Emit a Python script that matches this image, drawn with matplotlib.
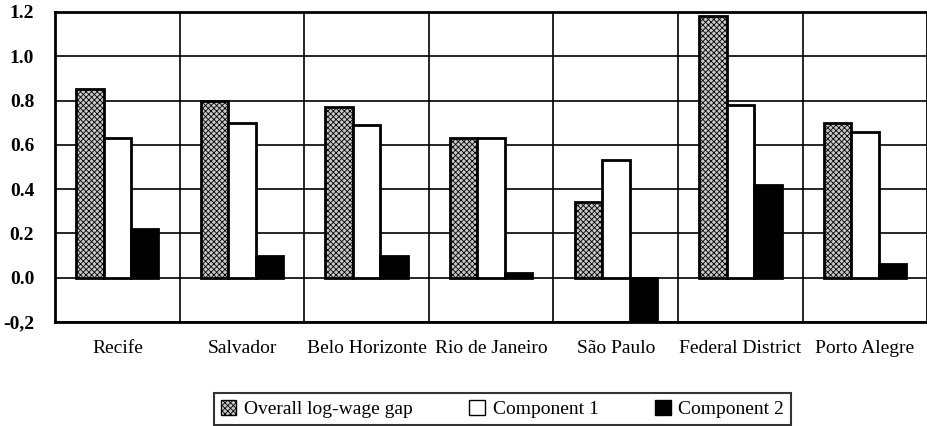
import numpy as np
import matplotlib
matplotlib.use("Agg")
import matplotlib.pyplot as plt

# Data
cities = ["Recife", "Salvador", "Belo Horizonte", "Rio de Janeiro",
          "São Paulo", "Federal District", "Porto Alegre"]
overall_gap = [0.85, 0.80, 0.77, 0.63, 0.34, 1.18, 0.70]
component_1 = [0.63, 0.70, 0.69, 0.63, 0.53, 0.78, 0.66]
component_2 = [0.22, 0.10, 0.10, 0.02, -0.25, 0.42, 0.06]
series_names = ["Overall log-wage gap", "Component 1", "Component 2"]
y_ticks = [-0.2, 0.0, 0.2, 0.4, 0.6, 0.8, 1.0, 1.2]
y_tick_labels = ["-0,2", "0.0", "0.2", "0.4", "0.6", "0.8", "1.0", "1.2"]

plt.rcParams['font.family'] = ['Liberation Serif', 'DejaVu Serif']
plt.rcParams['hatch.linewidth'] = 0.6

fig = plt.figure(figsize=(9.28, 4.26), dpi=100)
ax = fig.add_axes([0.0593, 0.244, 0.94, 0.728])

x = np.arange(len(cities))
w = 0.22
bar_kw = dict(edgecolor='black', linewidth=2.0, zorder=3)
ax.bar(x - w, overall_gap, w, facecolor='#c8c8c8', hatch='xxxxxx',
       label=series_names[0], **bar_kw)
ax.bar(x, component_1, w, facecolor='white', label=series_names[1], **bar_kw)
ax.bar(x + w, component_2, w, facecolor='black', label=series_names[2], **bar_kw)

ax.set_xlim(-0.5, len(cities) - 0.5)
ax.set_ylim(-0.2, 1.2)
ax.set_yticks(y_ticks)
ax.set_yticklabels(y_tick_labels, fontsize=14, fontweight='bold')
ax.set_xticks(x)
ax.set_xticklabels(cities, fontsize=14)
ax.tick_params(axis='both', length=0)
ax.tick_params(axis='x', pad=13)
ax.tick_params(axis='y', pad=15)

# horizontal grid at ticks, vertical lines between categories
for yv in y_ticks:
    ax.axhline(yv, color='black', linewidth=1.2, zorder=1)
for xv in np.arange(0.5, len(cities) - 0.5, 1):
    ax.axvline(xv, color='black', linewidth=1.2, zorder=1)
for s in ax.spines.values():
    s.set_linewidth(2.0)
    s.set_zorder(4)

leg = ax.legend(loc='upper center', bbox_to_anchor=(0.513, -0.198), ncol=3,
                fontsize=14, frameon=True, fancybox=False, edgecolor='black',
                handlelength=0.8, handleheight=0.8, handletextpad=0.4,
                columnspacing=2.9, borderpad=0.35)
leg.get_frame().set_linewidth(1.5)
for h in leg.legend_handles:
    h.set_linewidth(1.0)

fig.savefig("out.png", dpi=100)
